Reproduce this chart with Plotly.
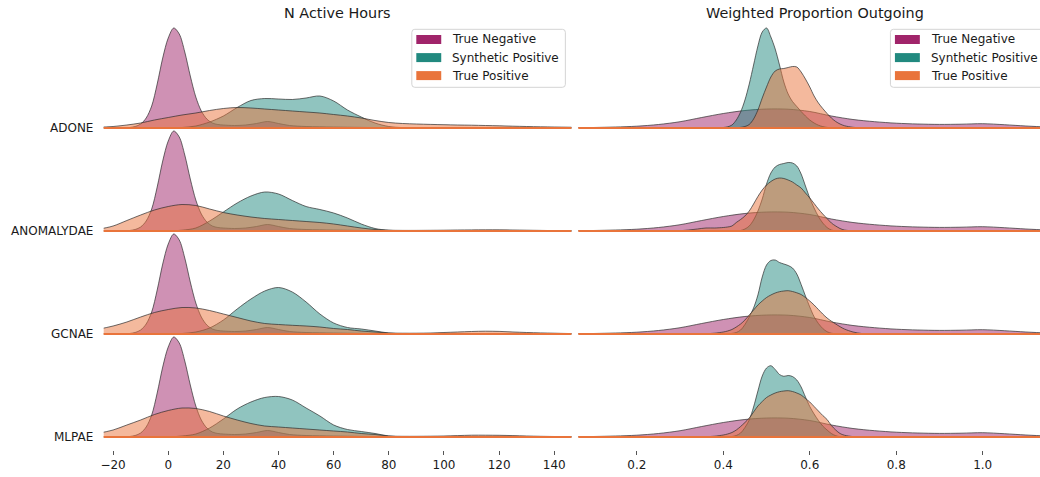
import plotly.graph_objects as go

FIG_W, FIG_H = 1040, 477

# ---------------- categories / labels ----------------
MODELS = ["ADONE", "ANOMALYDAE", "GCNAE", "MLPAE"]
SERIES = ["True Negative", "Synthetic Positive", "True Positive"]
SERIES_COLORS = ["#A0246A", "#21897F", "#E9743B"]
PANEL_TITLES = ["N Active Hours", "Weighted Proportion Outgoing"]

HOURS_TICKS = [-20, 0, 20, 40, 60, 80, 100, 120, 140]
HOURS_TICK_TEXT = ["\u221220", "0", "20", "40", "60", "80", "100", "120", "140"]
PROP_TICKS = [0.2, 0.4, 0.6, 0.8, 1.0]
PROP_TICK_TEXT = ["0.2", "0.4", "0.6", "0.8", "1.0"]

# ---------------- N Active Hours (scaled density) ----------------
HOURS_TN_X = [-16, -14, -12, -10, -8, -6, -4, -2, 0, 2, 4, 6, 8, 10, 12, 14, 16, 18, 20,
              24, 28, 32, 36, 40, 44, 50, 60, 70, 80, 90, 100, 120, 150]
HOURS_TN = [0, 0.5, 1.5, 4, 10, 22, 44, 70, 90, 100, 94, 76, 52, 31, 17, 9, 5, 3.5, 3,
            2.5, 3, 4.5, 6.5, 4.5, 2.5, 1.5, 1, 0.6, 0.3, 0.2, 0.1, 0.1, 0]

HOURS_X = [-30, -25, -20, -15, -10, -5, 0, 5, 10, 15, 20, 25, 30, 35, 40, 45, 50, 55, 60,
           65, 70, 75, 80, 85, 90, 95, 100, 105, 110, 115, 120, 125, 130, 135, 140, 145, 150]

HOURS_SP_ADONE = [0, 0, 0, 0, 0, 0, 0, 0.5, 2, 6, 12, 20.5, 27.5, 29.5, 29, 28.5, 30, 32, 27,
                  18, 11, 5, 1.5, 0.4, 0, 0, 0, 0, 0, 0, 0, 0, 0, 0, 0, 0, 0]
HOURS_SP_ANOMALYDAE = [0, 0, 0, 0, 0, 0, 0, 0.8, 3, 10, 19, 28, 35, 39, 37, 30.5, 24.5, 21.5, 18,
                       13, 7, 2.5, 0.7, 0.2, 0, 0, 0, 0, 0, 0, 0, 0, 0, 0, 0, 0, 0]
HOURS_SP_GCNAE = [0, 0, 0, 0, 0, 0, 0, 0.5, 2, 6, 14, 25, 35, 43, 46.5, 42, 32, 20, 11,
                  6.5, 5, 3, 1, 0.3, 0, 0, 0, 0, 0, 0, 0, 0, 0, 0, 0, 0, 0]
HOURS_SP_MLPAE = [0, 0, 0, 0, 0, 0, 0, 1, 3, 9, 18, 28, 35, 39.5, 40.5, 37, 29, 21, 12,
                  7.5, 5.5, 3.5, 1, 0.3, 0, 0, 0, 0, 0, 0, 0, 0, 0, 0, 0, 0, 0]

HOURS_TP_ADONE = [0.5, 0.8, 1.5, 3, 5, 8, 10.5, 13, 15, 17.5, 19.5, 20.5, 20, 19, 18, 17, 16, 15, 13.5,
                  12, 10, 7.5, 5.5, 4.5, 4, 3.6, 3.3, 3, 2.8, 2.5, 2.2, 1.8, 1.5, 1.2, 1, 0.8, 0.6]
HOURS_TP_ANOMALYDAE = [0.8, 2, 5, 10.5, 16, 21, 24.5, 26.5, 25.5, 22, 18.5, 16, 14, 12.5, 11.5, 10.5, 9.5, 8.5, 7,
                       5, 3, 1.5, 0.8, 0.6, 0.6, 0.7, 0.8, 1, 1.1, 1.2, 1.2, 1, 0.8, 0.6, 0.4, 0.3, 0.2]
HOURS_TP_GCNAE = [3, 5, 8, 12, 17, 21.5, 24.5, 26.5, 26, 23.5, 20, 16.5, 13, 10.5, 9.5, 8.7, 8, 7, 5.5,
                  4.5, 3, 2, 1, 0.8, 0.8, 1, 1.5, 2, 2.5, 2.8, 2.6, 2, 1.5, 1.1, 0.8, 0.5, 0.4]
HOURS_TP_MLPAE = [2.5, 4, 7, 12, 17, 22.5, 26.5, 29, 28.5, 25.5, 21, 17, 13.5, 11, 10, 9, 8, 7, 6,
                  5, 3.5, 2.5, 1, 0.7, 0.7, 0.8, 1, 1.4, 1.8, 1.8, 1.7, 1.4, 1, 0.7, 0.5, 0.4, 0.3]

# ---------------- Weighted Proportion Outgoing ----------------
PROP_TN_X = [0.0, 0.05, 0.1, 0.15, 0.2, 0.25, 0.3, 0.35, 0.4, 0.45, 0.5, 0.55, 0.6, 0.65,
             0.7, 0.75, 0.8, 0.85, 0.9, 0.95, 1.0, 1.05, 1.1, 1.15, 1.2]
PROP_TN = [0, 0.2, 0.5, 1, 1.8, 3.5, 6.3, 10.5, 14.5, 17.5, 19, 18.8, 16.5, 12,
           8.5, 6.3, 4.8, 4, 3.6, 3.8, 4.3, 3.3, 2, 1, 0.5]

PROP_X = [0.28, 0.30, 0.32, 0.34, 0.36, 0.38, 0.40, 0.41, 0.42, 0.43, 0.44, 0.45, 0.46, 0.47,
          0.48, 0.49, 0.50, 0.51, 0.52, 0.53, 0.54, 0.55, 0.56, 0.57, 0.58, 0.59, 0.60, 0.61,
          0.62, 0.63, 0.64, 0.65, 0.66, 0.67, 0.68, 0.70, 0.72, 0.74, 0.76]

PROP_SP_ADONE = [0, 0, 0, 0, 0, 0, 0.5, 1.2, 3, 8, 16, 28, 44, 63,
                 82, 96, 100, 91, 79, 63, 46, 34, 26.5, 21.5, 16.5, 12, 8, 5,
                 2.8, 1.4, 0.6, 0.2, 0, 0, 0, 0, 0, 0, 0]
PROP_SP_ANOMALYDAE = [0, 0, 0, 0, 0, 0, 0, 0, 0, 0.2, 0.5, 2, 5, 11,
                      20, 32, 47, 58, 64, 66.5, 67.5, 68.5, 68, 65, 57, 45, 33, 23,
                      14.5, 8, 3.5, 1, 0.2, 0, 0, 0, 0, 0, 0]
PROP_SP_GCNAE = [0, 0, 0, 0, 0, 0, 0, 0.2, 0.6, 1.5, 4, 9.5, 17, 26,
                 39, 57, 69, 73.5, 74, 71.5, 70, 68.5, 66, 60, 49.5, 38, 27, 17.3,
                 10.5, 5.5, 2.3, 0.8, 0.2, 0, 0, 0, 0, 0, 0]
PROP_SP_MLPAE = [0, 0, 0, 0, 0, 0, 0, 0, 0.5, 1.5, 4, 9.5, 17, 30,
                 46, 61, 69, 71.3, 67.5, 62.5, 60.7, 61.5, 60.5, 57, 50, 40, 30.5, 23,
                 16.5, 11, 7, 3.5, 1.3, 0.3, 0, 0, 0, 0, 0]

PROP_TP_ADONE = [0, 0, 0, 0, 0, 0, 0, 0, 0.1, 0.3, 0.6, 1.5, 3.5, 9,
                 18, 30, 41, 51, 57, 59, 59.5, 60.5, 61.5, 61, 56, 49, 41, 32,
                 25, 19.5, 14.5, 10, 6.5, 4, 2.3, 0.7, 0.1, 0, 0]
PROP_TP_ANOMALYDAE = [0, 0.3, 1, 2, 3, 3, 3.5, 4, 5, 8.5, 11.5, 15, 20, 27,
                      34.5, 41, 46, 49.5, 52, 53, 52.5, 51, 49, 46, 43, 38, 33, 27.5,
                      22, 17, 12.5, 8, 5, 2.5, 1, 0.2, 0, 0, 0]
PROP_TP_GCNAE = [0, 0, 0.1, 0.2, 0.3, 0.8, 2, 3, 4.5, 7, 10, 14, 19, 24,
                 29, 33, 36.5, 39, 41, 42.3, 43, 43.3, 42.5, 41.2, 39.5, 36.5, 33, 29,
                 24.5, 20, 16, 12.8, 10, 7.3, 5, 2, 0.5, 0, 0]
PROP_TP_MLPAE = [0, 0, 0.1, 0.2, 0.3, 0.8, 2, 3, 4.5, 7, 10.5, 14.5, 19, 25,
                 31, 35.5, 39.5, 42, 44, 45.3, 46, 46.3, 45.5, 44, 42, 38.5, 35, 30.5,
                 26, 21.5, 17.5, 11.5, 7, 3.5, 1.8, 0.4, 0, 0, 0]

# ---------------- geometry / style ----------------
ROW_STEP = 1.03      # vertical offset between ridges (data units)
SCALE = 100.0        # density units per data unit
Y_BOTTOM_PX = 450
Y_RANGE = [1.28 - Y_BOTTOM_PX / 100.0, 1.28]
Y_DOMAIN = [(FIG_H - Y_BOTTOM_PX) / FIG_H, 1.0]
X1_DOMAIN = [101 / FIG_W, 570 / FIG_W]
X1_RANGE = [-23.4, 146.2]
X2_DOMAIN = [577 / FIG_W, 1.0]
X2_RANGE = [0.0646, 1.1326]
EDGE = "rgba(45,45,45,0.7)"
FONT = "DejaVu Sans"
TEXT_COLOR = "#1a1a1a"


def rgba(hex_color, a):
    h = hex_color.lstrip("#")
    r, g, b = int(h[0:2], 16), int(h[2:4], 16), int(h[4:6], 16)
    return f"rgba({r},{g},{b},{a})"


def px_x(p):
    return p / FIG_W


def px_y(p):
    return 1 - p / FIG_H


fig = go.Figure()

panels = [
    dict(xa="x", ya="y", rng=X1_RANGE, tn_x=HOURS_TN_X, tn=HOURS_TN, grid=HOURS_X,
         sp=[HOURS_SP_ADONE, HOURS_SP_ANOMALYDAE, HOURS_SP_GCNAE, HOURS_SP_MLPAE],
         tp=[HOURS_TP_ADONE, HOURS_TP_ANOMALYDAE, HOURS_TP_GCNAE, HOURS_TP_MLPAE]),
    dict(xa="x2", ya="y2", rng=X2_RANGE, tn_x=PROP_TN_X, tn=PROP_TN, grid=PROP_X,
         sp=[PROP_SP_ADONE, PROP_SP_ANOMALYDAE, PROP_SP_GCNAE, PROP_SP_MLPAE],
         tp=[PROP_TP_ADONE, PROP_TP_ANOMALYDAE, PROP_TP_GCNAE, PROP_TP_MLPAE]),
]

for p in panels:
    for i, model in enumerate(MODELS):
        base = -ROW_STEP * i
        curves = [(p["tn_x"], p["tn"]), (p["grid"], p["sp"][i]), (p["grid"], p["tp"][i])]
        for (xs, hs), name, color in zip(curves, SERIES, SERIES_COLORS):
            fig.add_trace(go.Scatter(
                x=xs, y=[base] * len(xs), mode="lines",
                line=dict(width=0, color="rgba(0,0,0,0)"),
                hoverinfo="skip", showlegend=False, xaxis=p["xa"], yaxis=p["ya"]))
            fig.add_trace(go.Scatter(
                x=xs, y=[base + h / SCALE for h in hs], mode="lines",
                line=dict(color=EDGE, width=1, shape="spline", smoothing=0.9),
                fill="tonexty", fillcolor=rgba(color, 0.5),
                name=f"{model} – {name}", showlegend=False,
                xaxis=p["xa"], yaxis=p["ya"]))
        fig.add_trace(go.Scatter(
            x=[p["rng"][0] - 50, p["rng"][1] + 50], y=[base, base], mode="lines",
            line=dict(color="#E9743B", width=1.9), hoverinfo="skip", showlegend=False,
            xaxis=p["xa"], yaxis=p["ya"]))

axis_common = dict(showgrid=False, zeroline=False, showline=False, ticks="outside",
                   ticklen=4, tickwidth=1, tickcolor="#555555",
                   tickfont=dict(family=FONT, size=12, color=TEXT_COLOR))
fig.update_layout(
    width=FIG_W, height=FIG_H,
    margin=dict(l=0, r=0, t=0, b=0),
    paper_bgcolor="white", plot_bgcolor="rgba(0,0,0,0)",
    showlegend=False,
    xaxis=dict(domain=X1_DOMAIN, range=X1_RANGE, anchor="y",
               tickvals=HOURS_TICKS, ticktext=HOURS_TICK_TEXT, **axis_common),
    xaxis2=dict(domain=X2_DOMAIN, range=X2_RANGE, anchor="y2",
                tickvals=PROP_TICKS, ticktext=PROP_TICK_TEXT, **axis_common),
    yaxis=dict(domain=Y_DOMAIN, range=Y_RANGE, visible=False, anchor="x"),
    yaxis2=dict(domain=Y_DOMAIN, range=Y_RANGE, visible=False, anchor="x2"),
)

annotations = []
# row labels
for i, model in enumerate(MODELS):
    annotations.append(dict(
        x=px_x(92), xref="paper", y=-ROW_STEP * i, yref="y",
        text=model, showarrow=False, xanchor="right", yanchor="middle",
        font=dict(family=FONT, size=12, color=TEXT_COLOR)))
# panel titles
for title, cx in zip(PANEL_TITLES, [335.5, 814]):
    annotations.append(dict(
        x=px_x(cx), xref="paper", y=px_y(13), yref="paper",
        text=title, showarrow=False, xanchor="center", yanchor="middle",
        font=dict(family=FONT, size=14.4, color=TEXT_COLOR)))

shapes = []


def rounded_box(x0, y0, x1, y1, r):
    pts = [
        f"M {px_x(x0 + r)},{px_y(y0)}",
        f"L {px_x(x1 - r)},{px_y(y0)}",
        f"Q {px_x(x1)},{px_y(y0)} {px_x(x1)},{px_y(y0 + r)}",
        f"L {px_x(x1)},{px_y(y1 - r)}",
        f"Q {px_x(x1)},{px_y(y1)} {px_x(x1 - r)},{px_y(y1)}",
        f"L {px_x(x0 + r)},{px_y(y1)}",
        f"Q {px_x(x0)},{px_y(y1)} {px_x(x0)},{px_y(y1 - r)}",
        f"L {px_x(x0)},{px_y(y0 + r)}",
        f"Q {px_x(x0)},{px_y(y0)} {px_x(x0 + r)},{px_y(y0)}",
        "Z",
    ]
    return " ".join(pts)


LEGEND_LEFTS = [410, 890]
LEGEND_TOP, LEGEND_BOTTOM, LEGEND_W = 29.3, 87.3, 154
ENTRY_Y = [39.5, 57.6, 75.6]
for left in LEGEND_LEFTS:
    shapes.append(dict(type="path", xref="paper", yref="paper",
                       path=rounded_box(left, LEGEND_TOP, left + LEGEND_W, LEGEND_BOTTOM, 3),
                       line=dict(color="#d4d4d4", width=1),
                       fillcolor="rgba(255,255,255,0.8)", layer="above"))
    for name, color, cy in zip(SERIES, SERIES_COLORS, ENTRY_Y):
        shapes.append(dict(type="rect", xref="paper", yref="paper",
                           x0=px_x(left + 4.5), x1=px_x(left + 29.5),
                           y0=px_y(cy - 4.5), y1=px_y(cy + 4.5),
                           line=dict(width=0), fillcolor=color, layer="above"))
        annotations.append(dict(
            x=px_x(left + 38.5), xref="paper", y=px_y(cy), yref="paper",
            text=name, showarrow=False, xanchor="left", yanchor="middle",
            font=dict(family=FONT, size=12, color=TEXT_COLOR)))

fig.update_layout(annotations=annotations, shapes=shapes)

fig.write_html("out.html")
